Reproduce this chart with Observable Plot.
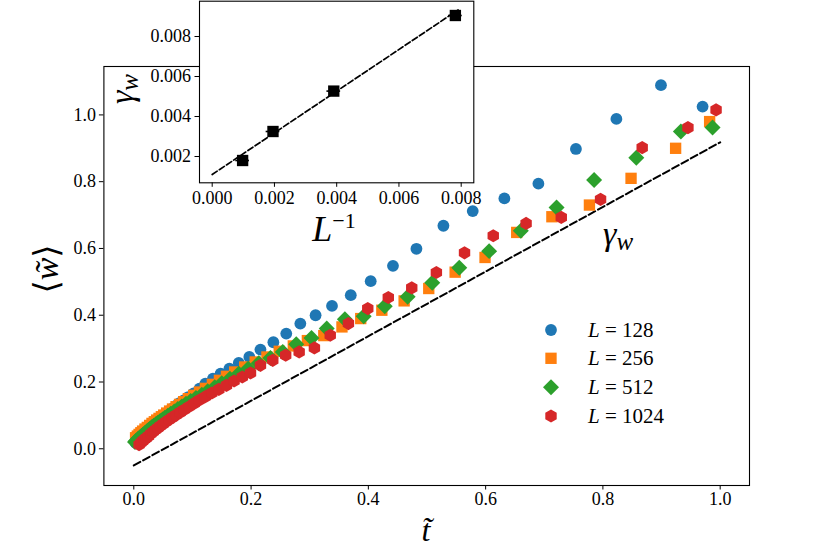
<!DOCTYPE html>
<html><head><meta charset="utf-8">
<script src="https://cdn.jsdelivr.net/npm/d3@7"></script>
<script src="https://cdn.jsdelivr.net/npm/@observablehq/plot@0.6"></script>
<style>
body{margin:0;background:#fff;}
#wrap{position:relative;width:830px;height:554px;overflow:hidden;}
#wrap svg{position:absolute;left:0;top:0;}
</style></head><body><div id="wrap"></div>
<script>
// ---- main chart data ----
const L128_t = [0.003,0.006,0.009,0.012,0.015,0.019,0.023,0.027,0.031,0.035,0.039,0.043,0.047,0.051,0.056,0.061,0.066,0.072,0.078,0.085,0.093,0.102,0.112,0.122,0.135,0.148,0.163,0.179,0.197,0.216,0.238,0.260,0.284,0.310,0.338,0.370,0.404,0.442,0.482,0.528,0.578,0.632,0.690,0.754,0.823,0.899,0.970];
const L128_w = [0.018,0.024,0.030,0.036,0.042,0.049,0.056,0.063,0.070,0.076,0.082,0.088,0.094,0.100,0.107,0.114,0.121,0.129,0.137,0.145,0.155,0.166,0.180,0.195,0.210,0.225,0.240,0.257,0.275,0.297,0.319,0.345,0.375,0.400,0.428,0.460,0.502,0.548,0.599,0.668,0.712,0.750,0.794,0.898,0.988,1.089,1.025];
const L256_t = [0.003,0.006,0.009,0.012,0.015,0.019,0.023,0.027,0.031,0.035,0.039,0.043,0.047,0.051,0.056,0.061,0.066,0.072,0.078,0.085,0.093,0.102,0.112,0.122,0.134,0.146,0.158,0.172,0.189,0.207,0.227,0.248,0.272,0.296,0.324,0.355,0.387,0.423,0.461,0.503,0.548,0.599,0.653,0.713,0.777,0.848,0.924,0.982];
const L256_w = [0.033,0.038,0.043,0.048,0.053,0.059,0.064,0.070,0.076,0.081,0.086,0.091,0.096,0.101,0.107,0.113,0.119,0.126,0.133,0.141,0.150,0.160,0.170,0.181,0.193,0.205,0.217,0.230,0.245,0.260,0.275,0.292,0.308,0.324,0.339,0.365,0.390,0.415,0.443,0.480,0.529,0.573,0.648,0.695,0.730,0.810,0.900,0.980];
const L512_t = [0.002,0.004,0.007,0.010,0.013,0.016,0.019,0.022,0.025,0.028,0.031,0.034,0.038,0.041,0.045,0.049,0.053,0.058,0.063,0.069,0.075,0.082,0.089,0.097,0.106,0.116,0.126,0.138,0.150,0.164,0.179,0.195,0.213,0.233,0.254,0.277,0.303,0.329,0.360,0.392,0.428,0.467,0.509,0.555,0.606,0.660,0.721,0.785,0.857,0.933,0.987];
const L512_w = [0.020,0.024,0.029,0.034,0.038,0.043,0.047,0.052,0.056,0.061,0.065,0.069,0.074,0.078,0.083,0.088,0.093,0.099,0.105,0.112,0.119,0.127,0.135,0.143,0.152,0.162,0.172,0.184,0.196,0.210,0.225,0.240,0.256,0.272,0.290,0.313,0.332,0.360,0.388,0.397,0.427,0.455,0.497,0.542,0.592,0.653,0.723,0.805,0.872,0.950,0.962];
const L1024_t = [0.009,0.012,0.015,0.018,0.021,0.025,0.029,0.033,0.037,0.041,0.045,0.050,0.055,0.060,0.066,0.072,0.079,0.086,0.094,0.103,0.112,0.122,0.133,0.145,0.158,0.171,0.185,0.199,0.216,0.237,0.259,0.282,0.308,0.335,0.366,0.399,0.434,0.474,0.516,0.564,0.613,0.669,0.729,0.796,0.867,0.945,0.993];
const L1024_w = [0.012,0.018,0.023,0.028,0.032,0.038,0.045,0.051,0.057,0.062,0.068,0.074,0.081,0.087,0.094,0.101,0.109,0.117,0.126,0.136,0.146,0.156,0.167,0.178,0.190,0.203,0.215,0.227,0.250,0.265,0.280,0.290,0.302,0.340,0.375,0.420,0.453,0.482,0.528,0.587,0.638,0.675,0.693,0.747,0.902,0.962,1.015];
const seriesNames = ["128","256","512","1024"];
const seriesColors = ["#1f77b4","#ff7f0e","#2ca02c","#d62728"];
const seriesSymbols = ["circle","square","diamond2","hexagon"];
const seriesR = [5.9,6.4,7.2,5.7];
// reference line
const guideT = [0.0, 1.0];
const guideW = [-0.05, 0.918];
const mainXTicks = [0,0.2,0.4,0.6,0.8,1.0];
const mainYTicks = [0,0.2,0.4,0.6,0.8,1.0];

// ---- inset data ----
const invL = [0.000977,0.001953,0.003906,0.007813];
const gammaW = [0.00180,0.00325,0.00527,0.00905];
const invLErr = [0.00022,0.00022,0.00022,0.00022];
const fitX = [0.0, 0.0079];
const fitY = [0.0011, 0.00933];
const insetXTicks = [0,0.002,0.004,0.006,0.008];
const insetYTicks = [0.002,0.004,0.006,0.008];

const W = 830, H = 554;
const font = "'Liberation Serif','DejaVu Serif',serif";
const tsArr = [L128_t,L256_t,L512_t,L1024_t];
const wsArr = [L128_w,L256_w,L512_w,L1024_w];
const seriesData = tsArr.map((ts,k)=>ts.map((t,i)=>({t, w: wsArr[k][i], L: seriesNames[k]})));
const guide = guideT.map((t,i)=>({t, w: guideW[i]}));

const main = Plot.plot({
  width: W, height: H,
  marginLeft: 103.4, marginRight: 81, marginTop: 66, marginBottom: 69,
  style: {fontFamily: font, fontSize: "18px", color: "black", background: "transparent", overflow: "visible"},
  x: {domain: [-0.051, 1.050], label: null},
  y: {domain: [-0.11, 1.145], label: null},
  marks: [
    Plot.line(guide, {x: "t", y: "w", stroke: "black", strokeWidth: 2, strokeDasharray: "7.4,3.2"}),
    ...seriesData.map((d,k)=>Plot.dot(d, {x: "t", y: "w", symbol: ()=>seriesSymbols[k], fill: seriesColors[k], r: seriesR[k], stroke: "none"})),
    Plot.frame({stroke: "black", strokeWidth: 1.1}),
    Plot.axisX({ticks: mainXTicks, tickFormat: d3.format(".1f"), tickSize: 4.5, tickPadding: 2.5, label: null}),
    Plot.axisY({ticks: mainYTicks, tickFormat: d3.format(".1f"), tickSize: 4.5, tickPadding: 3.5, label: null})
  ]
});
const wrap = document.getElementById("wrap");
wrap.appendChild(main);

const ms = d3.select(main);
// y label
const yl = ms.append("text").attr("transform","translate(47,269) rotate(-90)")
  .attr("text-anchor","middle").attr("dy","0.32em")
  .style("font-family", font).style("font-size","34px").attr("fill","black");
yl.append("tspan").text("\u27E8");
yl.append("tspan").attr("font-style","italic").text("w\u0303");
yl.append("tspan").text("\u27E9");
// x label
ms.append("text").attr("x",426).attr("y",541).attr("text-anchor","middle")
  .style("font-family", font).style("font-size","32px").attr("font-style","italic").attr("fill","black")
  .text("t\u0303");
// gamma_w annotation
const ga = ms.append("text").attr("x",603).attr("y",245).attr("text-anchor","start")
  .style("font-family", font).style("font-size","34px").attr("font-style","italic").attr("fill","black");
ga.append("tspan").text("\u03B3");
ga.append("tspan").attr("font-size","25px").attr("dy","5").text("w");

// legend
const legY = [330, 358.3, 387.3, 416];
const hexPath = (r)=>{const rx=r, ry=r*2/Math.sqrt(3), hy=ry/2; return `M0,${ry}L${rx},${hy}L${rx},${-hy}L0,${-ry}L${-rx},${-hy}L${-rx},${hy}Z`;};
const legSym = [
  d3.symbol(d3.symbolCircle, Math.PI*seriesR[0]*seriesR[0])(),
  d3.symbol(d3.symbolSquare, Math.PI*seriesR[1]*seriesR[1])(),
  d3.symbol(d3.symbolDiamond2, Math.PI*seriesR[2]*seriesR[2])(),
  hexPath(seriesR[3])
];
seriesNames.forEach((n,k)=>{
  ms.append("path").attr("d", legSym[k]).attr("transform",`translate(551,${legY[k]})`).attr("fill", seriesColors[k]);
  const t = ms.append("text").attr("x",588).attr("y",legY[k]+7).attr("text-anchor","start")
    .style("font-family", font).style("font-size","21px").attr("fill","black");
  t.append("tspan").attr("font-style","italic").text("L");
  t.append("tspan").text(" = " + n);
});

// ---- inset ----
const insetPts = invL.map((x,i)=>({x, y: gammaW[i], e: invLErr[i]}));
const fit = fitX.map((x,i)=>({x, y: fitY[i]}));
const inset = Plot.plot({
  width: W, height: H,
  marginLeft: 199, marginRight: 356.7, marginTop: 0.7, marginBottom: 371.7,
  style: {fontFamily: font, fontSize: "18px", color: "black", background: "transparent", overflow: "visible"},
  x: {domain: [-0.000408, 0.008405], label: null},
  y: {domain: [0.000685, 0.009765], label: null},
  marks: [
    Plot.frame({fill: "white", stroke: "none"}),
    Plot.line(fit, {x: "x", y: "y", stroke: "black", strokeWidth: 1.7, strokeDasharray: "6,2.6"}),
    Plot.ruleY(insetPts, {y: "y", x1: d=>d.x-d.e, x2: d=>d.x+d.e, stroke: "black", strokeWidth: 1.6}),
    Plot.dot(insetPts, {x: "x", y: "y", symbol: "square", fill: "black", r: 6.4}),
    Plot.frame({stroke: "black", strokeWidth: 1.1}),
    Plot.axisX({ticks: insetXTicks, tickFormat: d3.format(".3f"), tickSize: 4.5, tickPadding: 4, label: null}),
    Plot.axisY({ticks: insetYTicks, tickFormat: d3.format(".3f"), tickSize: 4.5, tickPadding: 4, label: null})
  ]
});
wrap.appendChild(inset);
const is = d3.select(inset);
const il = is.append("text").attr("x",334).attr("y",241).attr("text-anchor","middle")
  .style("font-family", font).style("font-size","36px").attr("fill","black");
il.append("tspan").attr("font-style","italic").text("L");
il.append("tspan").attr("font-size","22px").attr("dy","-13").text("\u22121");
const iy = is.append("text").attr("transform","translate(126,89) rotate(-90)").attr("text-anchor","middle")
  .attr("dy","0.2em")
  .style("font-family", font).style("font-size","34px").attr("font-style","italic").attr("fill","black");
iy.append("tspan").text("\u03B3");
iy.append("tspan").attr("font-size","25px").attr("dy","5").text("w");
</script></body></html>
